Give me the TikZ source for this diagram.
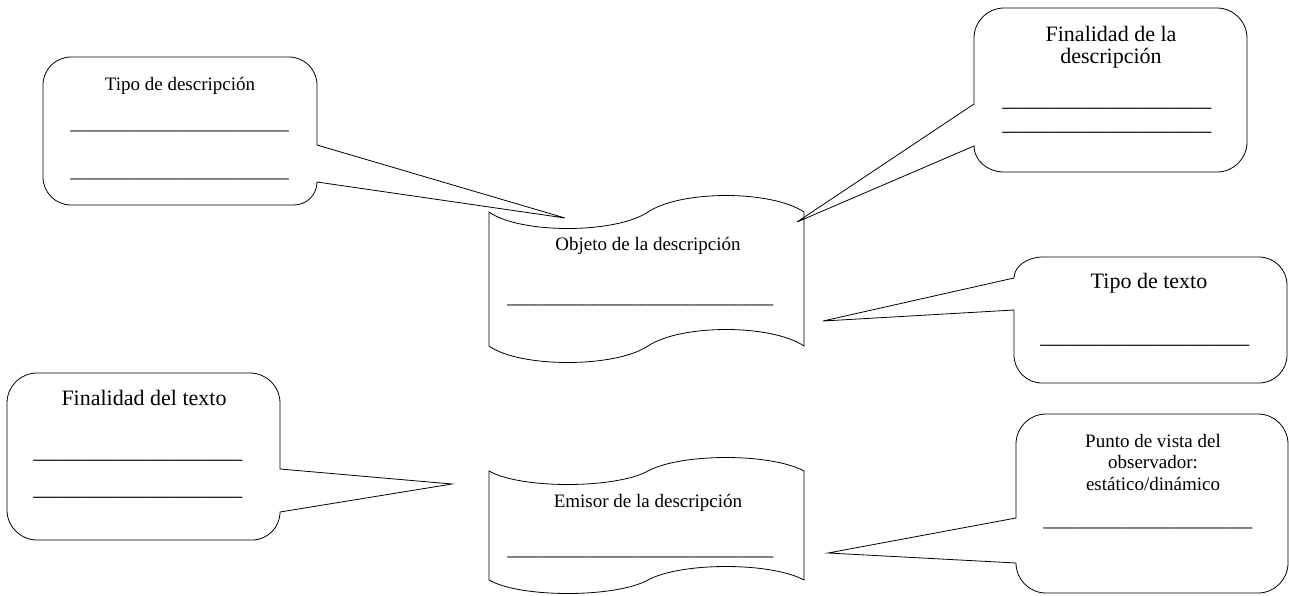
\documentclass[tikz,border=0pt]{standalone}
\usepackage{fontspec}
\setmainfont{Liberation Serif}
\newcommand\chico{\fontsize{14.25}{16}\selectfont}
\newcommand\grande{\fontsize{16.5}{16}\selectfont}
\newcommand\raya[1]{\foreach\i in {1,...,#1}{\_}}

\begin{document}
\begin{tikzpicture}[x=0.75pt,y=-0.75pt,line width=0.6pt]
\tikzstyle{texto}=[inner sep=0pt,anchor=base,font=\chico,align=center]
\tikzstyle{titulo}=[inner sep=0pt,anchor=base,font=\grande,align=center]
\tikzstyle{linea}=[inner sep=0pt,anchor=base west]
\useasboundingbox (0,0) rectangle (1289,596);

% puntas de los globos
\coordinate (puntaTipoDesc) at (565,218);
\coordinate (puntaFinDesc) at (797,222);
\coordinate (puntaTipoTexto) at (823,321);
\coordinate (puntaFinTexto) at (452,484);
\coordinate (puntaVista) at (828,553);

% globos
\draw (71,57) -- (289,57) arc[start angle=270,end angle=360,radius=28]
  -- (317,145) -- (puntaTipoDesc) -- (317,182) arc[start angle=0,end angle=90,radius=23]
  -- (71,205) arc[start angle=90,end angle=180,radius=28]
  -- (43,85) arc[start angle=180,end angle=270,radius=28] -- cycle;
\draw (1004,8) -- (1217,8) arc[start angle=270,end angle=360,radius=30]
  -- (1247,142) arc[start angle=0,end angle=90,radius=30]
  -- (1004,172) arc[start angle=90,end angle=180,x radius=30,y radius=26]
  -- (puntaFinDesc) -- (974,104)
  -- (974,38) arc[start angle=180,end angle=270,radius=30] -- cycle;
\draw (1043,257) -- (1259,257) arc[start angle=270,end angle=360,radius=28]
  -- (1287,355) arc[start angle=0,end angle=90,radius=28]
  -- (1042,383) arc[start angle=90,end angle=180,radius=28]
  -- (1014,310) -- (puntaTipoTexto) -- (1014,278)
  arc[start angle=180,end angle=270,x radius=29,y radius=21] -- cycle;
\draw (37,373) -- (250,373) arc[start angle=270,end angle=360,radius=30]
  -- (280,469) -- (puntaFinTexto) -- (280,512) arc[start angle=0,end angle=90,radius=28]
  -- (37,540) arc[start angle=90,end angle=180,radius=30]
  -- (7,403) arc[start angle=180,end angle=270,radius=30] -- cycle;
\draw (1046,414) -- (1258,414) arc[start angle=270,end angle=360,radius=30]
  -- (1288,563) arc[start angle=0,end angle=90,radius=30]
  -- (1046,593) arc[start angle=90,end angle=180,radius=30]
  -- (puntaVista) -- (1016,518)
  -- (1016,444) arc[start angle=180,end angle=270,radius=30] -- cycle;

% cintas
\foreach \t/\b/\c in {212/346/22, 471/580/18}
  \draw (489,\t) .. controls (520,\t+\c) and (615,\t+\c) .. (648,\t)
    .. controls (681,\t-\c) and (771,\t-\c) .. (804,\t) -- (804,\b)
    .. controls (771,\b-\c) and (681,\b-\c) .. (648,\b)
    .. controls (615,\b+\c) and (520,\b+\c) .. (489,\b) -- cycle;

% textos
\node[texto] (tipoDesc) at (180,90) {Tipo de descripción};
\node[titulo] (finDesc) at (1111,63) {Finalidad de la\\descripción};
\node[titulo] (tipoTexto) at (1149,288) {Tipo de texto};
\node[titulo] (finTexto) at (144,405) {Finalidad del texto};
\node[texto] (vista) at (1153,490) {Punto de vista del\\observador:\\estático/dinámico};
\node[texto] (objeto) at (648,250) {Objeto de la descripción};
\node[texto] (emisor) at (648,507) {Emisor de la descripción};

% rayas para completar
\foreach \place/\name/\n in {{(70,129)/rayaTipoDesc1/23},
                             {(70,177)/rayaTipoDesc2/23},
                             {(507,303)/rayaObjeto/28},
                             {(507,555)/rayaEmisor/28},
                             {(1043,526)/rayaVista/22}}
  \node[linea,font=\chico] (\name) at \place {\raya{\n}};
\foreach \place/\name/\n in {{(1002,106)/rayaFinDesc1/19},
                             {(1002,130)/rayaFinDesc2/19},
                             {(1040,343)/rayaTipoTexto/19},
                             {(33,458)/rayaFinTexto1/19},
                             {(33,495)/rayaFinTexto2/19}}
  \node[linea,font=\grande] (\name) at \place {\raya{\n}};
\end{tikzpicture}
\end{document}
